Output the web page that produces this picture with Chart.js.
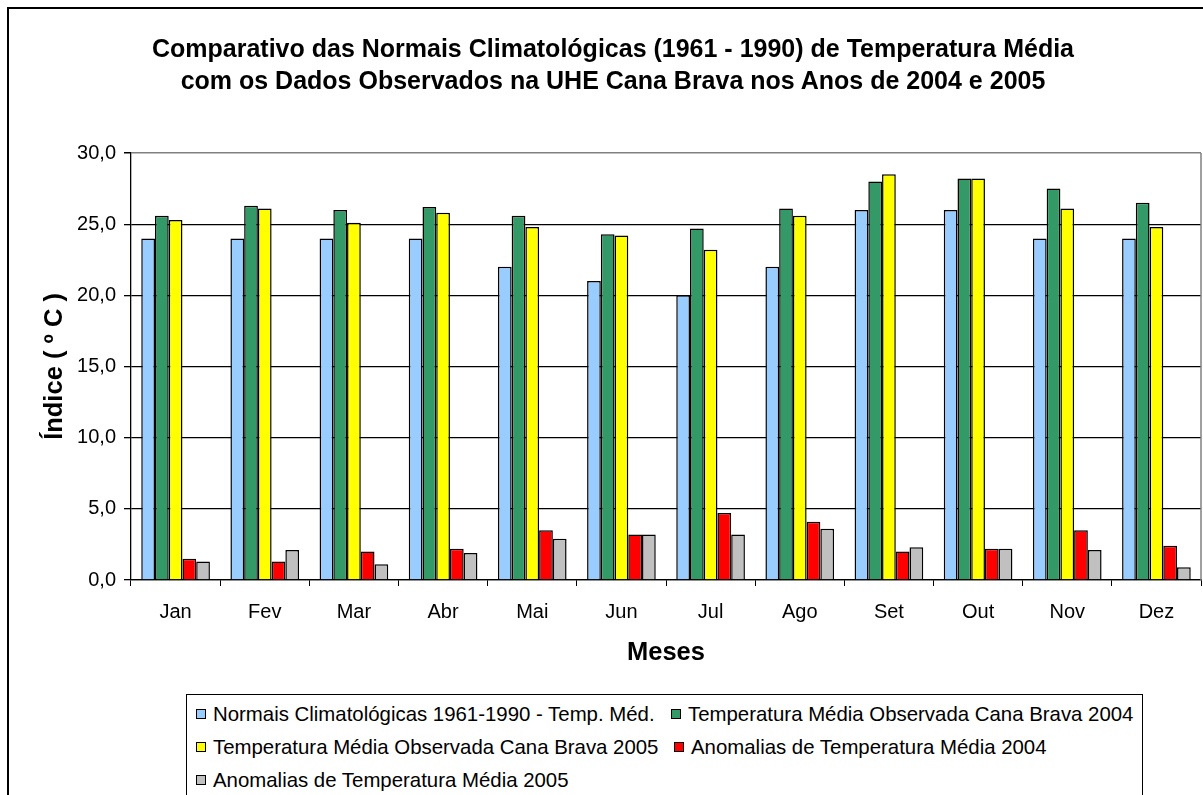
<!DOCTYPE html>
<html>
<head>
<meta charset="utf-8">
<script src="https://cdn.jsdelivr.net/npm/chart.js@4.4.1/dist/chart.umd.min.js"></script>
<style>
  html, body { margin: 0; padding: 0; background: #fff; overflow: hidden; }
  body { width: 1203px; height: 795px; position: relative; font-family: "Liberation Sans", Arial, sans-serif; }
  #frame { position: absolute; left: 7px; top: 7px; width: 1300px; height: 900px; border-top: 2px solid #000; border-left: 2px solid #000; }
  #chart { position: absolute; left: 0; top: 0; }
  #title { position: absolute; left: 0; top: 32px; width: 1226px; text-align: center; font-weight: bold; font-size: 25px; line-height: 32px; color: #000; }
  #legend { position: absolute; left: 186px; top: 694px; width: 955px; height: 200px; border: 1px solid #000; background: #fff; }
  .item { position: absolute; font-size: 20.4px; line-height: 24px; color: #000; white-space: nowrap; }
  .item .box { position: absolute; top: 7px; width: 8px; height: 8px; border: 1px solid #000; }
  .item span.txt { position: absolute; left: 17px; top: 0; }
</style>
</head>
<body>
<div id="frame"></div>
<canvas id="chart" width="1203" height="795"></canvas>
<div id="title">Comparativo das Normais Climatológicas (1961 - 1990) de Temperatura Média<br>com os Dados Observados na UHE Cana Brava nos Anos de 2004 e 2005</div>
<div id="legend"></div>

<script>
/* ===========================
   DATA
=========================== */

const months = ['Jan', 'Fev', 'Mar', 'Abr', 'Mai', 'Jun', 'Jul', 'Ago', 'Set', 'Out', 'Nov', 'Dez'];

const normais = [24.0, 24.0, 24.0, 24.0, 22.0, 21.0, 20.0, 22.0, 26.0, 26.0, 24.0, 24.0];
const obs2004 = [25.6, 26.3, 26.0, 26.2, 25.6, 24.3, 24.7, 26.1, 28.0, 28.2, 27.5, 26.5];
const obs2005 = [25.3, 26.1, 25.1, 25.8, 24.8, 24.2, 23.2, 25.6, 28.5, 28.2, 26.1, 24.8];
const anom2004 = [1.5, 1.3, 2.0, 2.2, 3.5, 3.2, 4.7, 4.1, 2.0, 2.2, 3.5, 2.4];
const anom2005 = [1.3, 2.1, 1.1, 1.9, 2.9, 3.2, 3.2, 3.6, 2.3, 2.2, 2.1, 0.9];

const yTickLabels = ['0,0', '5,0', '10,0', '15,0', '20,0', '25,0', '30,0'];

const seriesNames = [
  'Normais Climatológicas 1961-1990 - Temp. Méd.',
  'Temperatura Média Observada Cana Brava 2004',
  'Temperatura Média Observada Cana Brava 2005',
  'Anomalias de Temperatura Média 2004',
  'Anomalias de Temperatura Média 2005'
];
const seriesColors = ['#99CCFF', '#339966', '#FFFF00', '#FF0000', '#C0C0C0'];
const seriesData = [normais, obs2004, obs2005, anom2004, anom2005];

/* ===========================
   LEGEND (html)
=========================== */

const legendPos = [
  { left: 9, top: 7 },
  { left: 484, top: 7 },
  { left: 9, top: 40 },
  { left: 487, top: 40 },
  { left: 9, top: 73 }
];

const legend = document.getElementById('legend');
seriesNames.forEach((name, i) => {
  const item = document.createElement('div');
  item.className = 'item';
  item.style.left = legendPos[i].left + 'px';
  item.style.top = legendPos[i].top + 'px';
  item.innerHTML = `<span class="box" style="background:${seriesColors[i]}"></span><span class="txt">${name}</span>`;
  legend.appendChild(item);
});

/* ===========================
   CHART
=========================== */

const plotBorder = {
  id: 'plotBorder',
  afterDraw(chart) {
    const { ctx, chartArea } = chart;
    ctx.save();
    ctx.strokeStyle = '#808080';
    ctx.lineWidth = 1.5;
    ctx.beginPath();
    ctx.moveTo(chartArea.right, chartArea.top);
    ctx.lineTo(chartArea.right, chartArea.bottom);
    ctx.stroke();
    ctx.restore();
  }
};

const FONT = '"Liberation Sans", Arial, sans-serif';

new Chart(document.getElementById('chart'), {
  type: 'bar',
  data: {
    labels: months,
    datasets: seriesNames.map((name, i) => ({
      label: name,
      data: seriesData[i],
      backgroundColor: seriesColors[i],
      borderColor: '#000',
      borderWidth: 1.5,
      categoryPercentage: 0.77,
      barPercentage: 1.0
    }))
  },
  options: {
    responsive: false,
    animation: false,
    layout: { padding: { left: 0, top: 153, right: 2, bottom: 115 } },
    plugins: {
      legend: { display: false },
      title: { display: false },
      tooltip: { enabled: false }
    },
    scales: {
      x: {
        grid: { display: true, drawOnChartArea: false, drawTicks: true, tickLength: 6, color: '#000', offset: true },
        border: { color: '#000', width: 1.3 },
        ticks: { color: '#000', padding: 14, font: { family: FONT, size: 20 } },
        title: { display: true, text: 'Meses', color: '#000', padding: { top: 0, bottom: 12 }, font: { family: FONT, size: 25.5, weight: 'bold' } },
        afterFit(scale) { scale.height = 100; }
      },
      y: {
        min: 0,
        max: 30,
        grid: {
          color: ctx => (ctx.tick && ctx.tick.value === 30 ? '#808080' : '#000'),
          tickColor: '#000',
          lineWidth: ctx => (ctx.tick && ctx.tick.value === 30 ? 1.5 : 1.3),
          tickLength: 7
        },
        border: { color: '#000', width: 1.3 },
        ticks: {
          stepSize: 5,
          color: '#000',
          padding: 8,
          font: { family: FONT, size: 20 },
          callback: (value, index) => yTickLabels[index]
        },
        title: { display: true, text: 'Índice ( º C )', color: '#000', padding: { top: 40, bottom: 0 }, font: { family: FONT, size: 25.5, weight: 'bold' } },
        afterFit(scale) { scale.width = 131; }
      }
    }
  },
  plugins: [plotBorder]
});
</script>
</body>
</html>
